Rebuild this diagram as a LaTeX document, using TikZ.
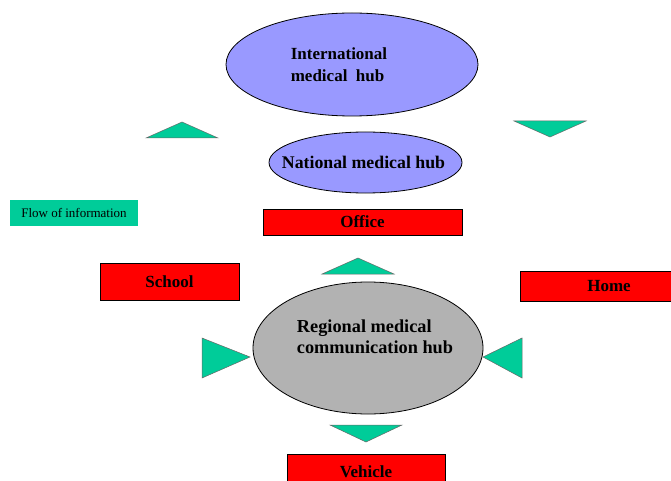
\documentclass[tikz,border=0pt]{standalone}
\usepackage{fontspec}
\setmainfont{Liberation Serif}
\usetikzlibrary{shapes.geometric}
\usetikzlibrary{positioning}
\usetikzlibrary{calc}
\definecolor{hubblue}{HTML}{9999FF}
\definecolor{hubgray}{HTML}{B2B2B2}
\definecolor{flowgreen}{HTML}{00CC99}
\tikzset{every picture/.style={line width=0.8pt},hub/.style={ellipse,draw,inner sep=0pt},hubtext/.style={align=left,inner sep=0pt,font=\fontsize{17}{22}\selectfont\bfseries},place/.style={rectangle,draw,fill=red,inner sep=0pt,font=\fontsize{17}{20}\selectfont\bfseries},flow/.style={fill=flowgreen,draw=black!60,line width=0.5pt}}

\begin{document}
\begin{tikzpicture}[x=1pt,y=-1pt]
\useasboundingbox (0,0) rectangle (671,481);
% hubs
\node (int) at (352,64.5) [hub,fill=hubblue,minimum width=252pt,minimum height=103pt] {};
\node (inttext) at ([xshift=-13pt]int.center) [hubtext] {International\\medical\ \ hub};
\node (nat) at (365.5,162.5) [hub,fill=hubblue,minimum width=193pt,minimum height=61pt] {};
\node (nattext) at ([xshift=-2pt]nat.center) [hubtext,font=\fontsize{17.8}{20}\selectfont\bfseries] {National medical hub};
\node (reg) at (368,348) [hub,fill=hubgray,minimum width=230pt,minimum height=132pt] {};
\node (regtext) at ([xshift=7pt,yshift=11.5pt]reg.center) [hubtext,font=\fontsize{18.3}{21}\selectfont\bfseries] {Regional medical\\communication hub};
% places
\foreach \n/\x/\y/\w/\h/\t in {office/362.5/222/199/26/Office,school/169.5/281.5/139/37/School,home/609/286.5/178/30/Home,vehicle/366/472/158/36/Vehicle} {
\node (\n) at (\x,\y) [place,minimum width=\w pt,minimum height=\h pt] {\t};
}
\node (key) at (74,213) [fill=flowgreen,minimum width=128pt,minimum height=26pt,inner sep=0pt,font=\fontsize{13}{15}\selectfont] {Flow of information};
% flow arrows
\foreach \ax/\ay/\bx/\by/\cx/\cy in {146/138/218/138/182/122,514/121/586/121/550/137,322/274/394/274/358/258,202/338/202/378/250/357,522/338/522/378/483/357,330/425/402/425/366/442} {
\draw[flow] (\ax,\ay) -- (\bx,\by) -- (\cx,\cy) -- cycle;
}
\end{tikzpicture}
\end{document}
